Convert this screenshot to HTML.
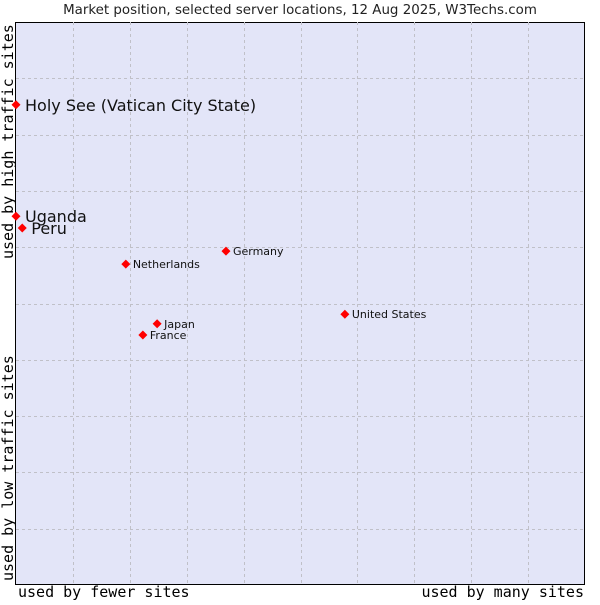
<!DOCTYPE html>
<html><head><meta charset="utf-8"><style>
body{margin:0;background:#fff;width:600px;height:600px;overflow:hidden}
svg text{font-family:"DejaVu Sans","Liberation Sans",sans-serif}
.mono{font-family:"DejaVu Sans Mono","Liberation Mono",monospace}
</style></head><body>
<svg id="chart" width="600" height="600">
<text x="300" y="14" text-anchor="middle" font-size="13.4" fill="#222">Market position, selected server locations, 12 Aug 2025, W3Techs.com</text>
<rect x="15.5" y="22.5" width="569" height="562" fill="#e3e5f8" stroke="#000"/>
<g id="grid"></g>
<g id="marks"></g>
<text class="mono" x="18" y="597" font-size="15" fill="#000">used by fewer sites</text>
<text class="mono" x="584" y="597" text-anchor="end" font-size="15" fill="#000">used by many sites</text>
<text class="mono" transform="translate(13,581) rotate(-90)" font-size="15" fill="#000">used by low traffic sites</text>
<text class="mono" transform="translate(13,259) rotate(-90)" font-size="15" fill="#000">used by high traffic sites</text>
</svg>
<script>
const names = ["Holy See (Vatican City State)","Uganda","Peru","Netherlands","Germany","Japan","France","United States"];
const xVals = [0,0,1.1,19.3,36.9,24.8,22.3,57.8];
const yVals = [85.3,65.5,63.4,57.0,59.3,46.4,44.4,48.1];
const bigLabel = [true,true,true,false,false,false,false,false];
const X0=16,X1=585,Y0=585,Y1=22;
const sx=v=>X0+v/100*(X1-X0);
const sy=v=>Y0-v/100*(Y0-Y1);
const NS="http://www.w3.org/2000/svg";
const grid=document.getElementById('grid');
for(let i=1;i<10;i++){
  const gx=X0+i*(X1-X0)/10, gy=Y1+i*(Y0-Y1)/10;
  const v=document.createElementNS(NS,'line');
  v.setAttribute('x1',Math.round(gx)+0.5);v.setAttribute('x2',Math.round(gx)+0.5);
  v.setAttribute('y1',Y1);v.setAttribute('y2',Y0);
  v.setAttribute('stroke','#c0c0c8');v.setAttribute('stroke-dasharray','3,3');
  
  
  grid.appendChild(v);
  const h=document.createElementNS(NS,'line');
  h.setAttribute('y1',Math.round(gy)+0.5);h.setAttribute('y2',Math.round(gy)+0.5);
  h.setAttribute('x1',X0);h.setAttribute('x2',X1);
  h.setAttribute('stroke','#c0c0c8');h.setAttribute('stroke-dasharray','3,3');
  
  
  grid.appendChild(h);
}
const marks=document.getElementById('marks');
names.forEach((n,i)=>{
  const x=sx(xVals[i]), y=sy(yVals[i]);
  const p=document.createElementNS(NS,'polygon');
  p.setAttribute('points',`${x},${y-4.5} ${x+4.5},${y} ${x},${y+4.5} ${x-4.5},${y}`);
  p.setAttribute('fill','#f00');
  
  
  marks.appendChild(p);
  const t=document.createElementNS(NS,'text');
  t.setAttribute('x',x+(bigLabel[i]?9:7));
  t.setAttribute('y',y+(bigLabel[i]?6:4));
  t.setAttribute('font-size',bigLabel[i]?16:11);
  t.setAttribute('fill','#111');
  t.textContent=n;
  
  
  marks.appendChild(t);
});
</script>
</body></html>
